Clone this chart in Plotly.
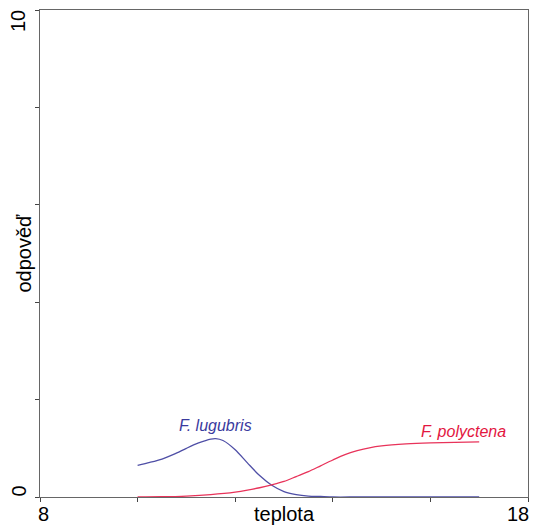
import plotly.graph_objects as go

# data
lug_x = [10.0, 10.25, 10.5, 10.75, 11.0, 11.25, 11.5, 11.6, 11.75, 12.0, 12.25, 12.5, 12.75,
         13.0, 13.25, 13.5, 13.75, 14.0, 14.5, 15.0, 15.5, 16.0, 16.5, 17.0]
lug_y = [0.65, 0.71, 0.78, 0.88, 1.00, 1.11, 1.19, 1.20, 1.16, 0.97, 0.70, 0.44, 0.24,
         0.11, 0.05, 0.02, 0.01, 0.0, 0.0, 0.0, 0.0, 0.0, 0.0, 0.0]

pol_x = [10.0, 10.5, 11.0, 11.5, 12.0, 12.25, 12.5, 12.75, 13.0, 13.25, 13.5, 13.75,
         14.0, 14.25, 14.5, 14.75, 15.0, 15.5, 16.0, 16.5, 17.0]
pol_y = [0.0, 0.005, 0.02, 0.05, 0.10, 0.14, 0.19, 0.25, 0.32, 0.42, 0.52, 0.64,
         0.76, 0.87, 0.95, 1.01, 1.05, 1.09, 1.11, 1.12, 1.13]

x_ticks = [8, 10, 12, 14, 16, 18]
y_ticks = [0, 2, 4, 6, 8, 10]

blue = "#3a3a9e"
red = "#e3173f"
font = "Liberation Sans, Arial, sans-serif"

fig = go.Figure()
fig.add_trace(go.Scatter(x=lug_x, y=lug_y, mode="lines",
                         line=dict(color="#4f4fa6", width=1.3, shape="spline", smoothing=0.8),
                         showlegend=False))
fig.add_trace(go.Scatter(x=pol_x, y=pol_y, mode="lines",
                         line=dict(color="#e8335a", width=1.3, shape="spline", smoothing=0.8),
                         showlegend=False))

fig.add_annotation(x=11.6, y=1.25, text="<i>F. lugubris</i>", showarrow=False,
                   xanchor="center", yanchor="bottom", font=dict(family=font, size=16, color=blue))
fig.add_annotation(x=17.6, y=1.12, text="<i>F. polyctena</i>", showarrow=False,
                   xanchor="right", yanchor="bottom", font=dict(family=font, size=16, color=red))

# axis end labels and titles
big = dict(family=font, size=20, color="black")
fig.add_annotation(x=8, y=0, xref="x", yref="paper", text="8", showarrow=False,
                   xanchor="left", yanchor="top", xshift=-4, yshift=-4, font=big)
fig.add_annotation(x=18, y=0, xref="x", yref="paper", text="18", showarrow=False,
                   xanchor="right", yanchor="top", xshift=3, yshift=-4, font=big)
fig.add_annotation(x=13, y=0, xref="x", yref="paper", text="teplota", showarrow=False,
                   xanchor="center", yanchor="top", yshift=-4, font=big)
fig.add_annotation(x=0, y=0, xref="paper", yref="y", text="0", showarrow=False,
                   xanchor="right", yanchor="bottom", textangle=-90, xshift=-9, yshift=-2, font=big)
fig.add_annotation(x=0, y=10, xref="paper", yref="y", text="10", showarrow=False,
                   xanchor="right", yanchor="top", textangle=-90, xshift=-9, yshift=2, font=big)
fig.add_annotation(x=0, y=5, xref="paper", yref="y", text="odpověď", showarrow=False,
                   xanchor="right", yanchor="middle", textangle=-90, xshift=-4, font=big)

fig.update_xaxes(range=[8, 18], tickvals=x_ticks, ticktext=[""] * len(x_ticks),
                 ticks="outside", ticklen=4, tickcolor="#444", showgrid=False, zeroline=False,
                 showline=True, linecolor="#666", linewidth=1.2, mirror=True, automargin=False)
fig.update_yaxes(range=[0, 10], tickvals=y_ticks, ticktext=[""] * len(y_ticks),
                 ticks="outside", ticklen=4, tickcolor="#444", showgrid=False, zeroline=False,
                 showline=True, linecolor="#666", linewidth=1.2, mirror=True, automargin=False)

# page body has an 8px margin, so the figure is sized/offset to land the plot box at the reference spot
fig.update_layout(width=533, height=518, margin=dict(l=32, r=13, t=2, b=29, autoexpand=False),
                  paper_bgcolor="white", plot_bgcolor="white",
                  font=dict(family=font, size=19, color="black"))

fig.write_html("out.html")
